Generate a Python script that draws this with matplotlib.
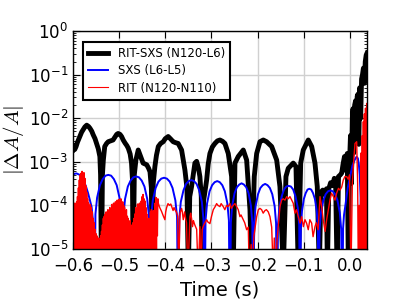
import numpy as np
import matplotlib
matplotlib.use("Agg")
import matplotlib.pyplot as plt

plt.rcParams["mathtext.fontset"] = "cm"

labels = ["RIT-SXS (N120-L6)", "SXS (L6-L5)", "RIT (N120-N110)"]

# ---- RIT-SXS (black): time [s], log10 |dA/A|
rs_t = [-0.600, -0.598, -0.596, -0.593, -0.590, -0.585, -0.581, -0.578, -0.574, -0.570,
        -0.566, -0.563, -0.559, -0.556, -0.552, -0.549, -0.545, -0.5415, -0.540, -0.538,
        -0.536, -0.534, -0.531, -0.527, -0.5235, -0.518, -0.513, -0.508, -0.505, -0.502,
        -0.498, -0.4945, -0.491, -0.487, -0.483, -0.480, -0.476, -0.473, -0.471, -0.4695,
        -0.467, -0.4635, -0.4585, -0.456, -0.453, -0.448, -0.444, -0.440, -0.436, -0.433,
        -0.430, -0.428, -0.426, -0.4224, -0.419, -0.415, -0.410, -0.4044, -0.400, -0.3936,
        -0.388, -0.3828, -0.378, -0.372, -0.3646, -0.3574, -0.353, -0.350, -0.347, -0.343,
        -0.3358, -0.332, -0.328, -0.325, -0.322, -0.320, -0.317, -0.3104, -0.307, -0.3033,
        -0.298, -0.2925, -0.287, -0.2816, -0.276, -0.2708, -0.2636, -0.2563, -0.2528, -0.2491,
        -0.242, -0.2311, -0.2238, -0.2166, -0.213, -0.2073, -0.2021, -0.195, -0.1878, -0.1805,
        -0.1696, -0.1588, -0.1517, -0.1445, -0.1387, -0.1337, -0.1229, -0.117, -0.112, -0.1068,
        -0.1012, -0.0904, -0.083, -0.0759, -0.0709, -0.0665, -0.063, -0.059, -0.055, -0.051,
        -0.049, -0.046, -0.042, -0.038, -0.034, -0.031, -0.028, -0.025, -0.021, -0.018,
        -0.015, -0.012, -0.009, -0.006, -0.0036, -0.001, 0.001, 0.003, 0.005, 0.0065,
        0.008, 0.010, 0.012, 0.014, 0.0155, 0.017, 0.019, 0.021, 0.023, 0.025,
        0.027, 0.029, 0.031, 0.033, 0.035, 0.037]
rs_log = [-2.73, -2.62, -2.72, -2.65, -2.55, -2.42, -2.32, -2.27, -2.20, -2.16,
          -2.19, -2.23, -2.30, -2.38, -2.47, -2.57, -2.70, -2.88, -3.3, -5.5,
          -3.3, -2.96, -2.65, -2.58, -2.54, -2.52, -2.50, -2.42, -2.37, -2.35,
          -2.37, -2.42, -2.50, -2.57, -2.63, -2.69, -2.82, -3.03, -3.4, -5.5,
          -3.3, -2.96, -2.73, -2.80, -2.88, -3.03, -3.05, -3.07, -3.15, -3.23,
          -3.6, -5.5, -3.5, -3.11, -2.85, -2.65, -2.58, -2.54, -2.47, -2.42,
          -2.48, -2.54, -2.56, -2.58, -2.73, -3.19, -3.6, -5.5, -3.8, -3.57,
          -3.03, -2.99, -3.15, -3.34, -3.8, -5.5, -3.9, -3.42, -3.05, -2.81,
          -2.66, -2.58, -2.52, -2.50, -2.53, -2.58, -2.81, -3.34, -5.5, -3.03,
          -2.88, -2.73, -2.96, -4.1, -5.5, -3.34, -2.81, -2.54, -2.50, -2.54,
          -2.65, -2.96, -3.57, -5.5, -3.34, -3.15, -3.03, -3.11, -5.5, -3.03,
          -2.73, -2.50, -2.65, -3.03, -3.57, -5.5, -3.70, -3.65, -3.75, -3.62,
          -5.5, -3.62, -3.48, -3.55, -3.38, -3.6, -5.5, -3.34, -3.30, -3.26,
          -3.05, -2.88, -3.2, -2.81, -5.5, -3.0, -2.4, -3.5, -2.0, -1.78,
          -2.8, -1.7, -1.6, -2.4, -1.5, -1.45, -2.6, -1.3, -2.0, -1.1,
          -1.0, -0.85, -1.2, -0.7, -0.55, -0.5]

# ---- SXS (blue): time [s], |dA/A|
sxs_t = [-0.600, -0.596, -0.592, -0.585, -0.578, -0.572, -0.567, -0.5595, -0.556,
         -0.5535, -0.5511, -0.5475, -0.5414, -0.5354, -0.5293, -0.5233, -0.5172, -0.5112, -0.5051, -0.4991, -0.4954,
         -0.493, -0.4906, -0.487, -0.481, -0.475, -0.469, -0.463, -0.457, -0.451, -0.445, -0.439, -0.4354,
         -0.433, -0.4306, -0.4269, -0.4208, -0.4147, -0.4086, -0.4025, -0.3964, -0.3903, -0.3842, -0.3781, -0.3744,
         -0.372, -0.3697, -0.3663, -0.3606, -0.3549, -0.3492, -0.3435, -0.3378, -0.3321, -0.3264, -0.3207, -0.3173,
         -0.315, -0.3128, -0.3095, -0.304, -0.2985, -0.293, -0.2875, -0.282, -0.2765, -0.271, -0.2655, -0.2622,
         -0.260, -0.258, -0.2550, -0.2499, -0.2449, -0.2398, -0.2348, -0.2297, -0.2247, -0.2196, -0.2146, -0.2115,
         -0.2095, -0.2074, -0.2044, -0.1992, -0.1941, -0.1889, -0.1838, -0.1786, -0.1735, -0.1683, -0.1632, -0.1601,
         -0.158, -0.156, -0.153, -0.148, -0.143, -0.138, -0.133, -0.128, -0.123, -0.118, -0.113, -0.110,
         -0.108, -0.1064, -0.104, -0.100, -0.096, -0.092, -0.088, -0.084, -0.080, -0.076, -0.072, -0.0696,
         -0.068, -0.066, -0.0629, -0.0578, -0.0527, -0.0476, -0.0425, -0.0374, -0.0323, -0.0272, -0.0221, -0.0191,
         -0.017, -0.015, -0.013, -0.010, -0.005, 0.000, 0.005, 0.010, 0.014, 0.017, 0.019, 0.021, 0.023,
         0.024, 0.026, 0.030, 0.034, 0.037]
sxs_v = [5.0e-4, 5.3e-4, 5.4e-4, 5.0e-4, 3.9e-4, 2.8e-4, 1.9e-4, 9.3e-5, 4.0e-5,
         1e-7, 6.3e-5, 1.5e-4, 2.9e-4, 4.0e-4, 4.8e-4, 5.0e-4, 4.8e-4, 4.0e-4, 2.9e-4, 1.5e-4, 6.3e-5,
         1e-7, 5.8e-5, 1.4e-4, 2.7e-4, 3.7e-4, 4.4e-4, 4.6e-4, 4.4e-4, 3.7e-4, 2.7e-4, 1.4e-4, 5.8e-5,
         1e-7, 5.4e-5, 1.3e-4, 2.5e-4, 3.5e-4, 4.1e-4, 4.3e-4, 4.1e-4, 3.5e-4, 2.5e-4, 1.3e-4, 5.4e-5,
         1e-7, 4.8e-5, 1.2e-4, 2.2e-4, 3.1e-4, 3.6e-4, 3.8e-4, 3.6e-4, 3.1e-4, 2.2e-4, 1.2e-4, 4.8e-5,
         1e-7, 4.5e-5, 1.1e-4, 2.1e-4, 2.9e-4, 3.4e-4, 3.6e-4, 3.4e-4, 2.9e-4, 2.1e-4, 1.1e-4, 4.5e-5,
         1e-7, 4.0e-5, 9.9e-5, 1.9e-4, 2.6e-4, 3.0e-4, 3.2e-4, 3.0e-4, 2.6e-4, 1.9e-4, 9.9e-5, 4.0e-5,
         1e-7, 3.9e-5, 9.6e-5, 1.8e-4, 2.5e-4, 2.9e-4, 3.1e-4, 2.9e-4, 2.5e-4, 1.8e-4, 9.6e-5, 3.9e-5,
         1e-7, 3.5e-5, 8.7e-5, 1.6e-4, 2.3e-4, 2.7e-4, 2.8e-4, 2.7e-4, 2.3e-4, 1.6e-4, 8.7e-5, 3.5e-5,
         1e-7, 3.0e-5, 7.4e-5, 1.4e-4, 1.9e-4, 2.3e-4, 2.4e-4, 2.3e-4, 1.9e-4, 1.4e-4, 7.4e-5, 3.0e-5,
         1e-7, 2.8e-5, 6.8e-5, 1.3e-4, 1.8e-4, 2.1e-4, 2.2e-4, 2.1e-4, 1.8e-4, 1.3e-4, 6.8e-5, 2.8e-5,
         1e-7, 3.0e-5, 6.0e-5, 1.0e-4, 2.5e-4, 4.5e-4, 8.0e-4, 1.1e-3, 1.3e-3, 1.2e-3, 9.0e-4, 5.0e-4, 1.5e-4,
         1e-7, 5.0e-4, 1.5e-3, 2.5e-3, 3.0e-3]

# ---- RIT (red), part 1: densely sampled noisy segment, 1 ms samples from -0.600 s
rit_dense_t0 = -0.600
rit_dense_dt = 0.001
rit_dense_log = [
    -3.97, -5.6, -4.05, -5.0, -3.95, -5.8, -4.02, -4.9, -3.92, -5.4,
    -3.80, -6.0, -3.60, -5.2, -3.42, -4.7, -3.30, -5.7, -3.26, -5.1,
    -3.22, -5.5, -3.28, -4.8, -3.25, -5.6, -3.38, -5.0, -3.55, -5.8,
    -3.70, -4.9, -3.85, -5.4, -3.95, -6.0, -4.02, -5.2, -3.98, -4.7,
    -4.05, -5.7, -4.15, -5.1, -4.30, -5.5, -4.40, -4.8, -4.55, -5.6,
    -4.65, -5.0, -4.70, -5.8, -4.80, -4.95, -4.75, -5.4, -4.85, -6.0,
    -4.70, -5.2, -4.60, -4.9, -4.45, -5.7, -4.30, -5.1, -4.25, -5.5,
    -4.20, -4.8, -4.15, -5.6, -4.25, -5.0, -4.10, -5.8, -4.20, -4.9,
    -4.05, -5.4, -4.15, -6.0, -3.98, -5.2, -4.10, -4.7, -3.95, -5.7,
    -4.05, -5.1, -3.92, -5.5, -4.00, -4.8, -3.88, -5.6, -3.95, -5.0,
    -3.86, -5.8, -3.90, -4.9, -3.85, -5.4, -3.95, -6.0, -3.92, -5.2,
    -4.00, -4.7, -4.05, -5.7, -4.15, -5.1, -4.10, -5.5, -4.25, -4.8,
    -4.30, -5.6, -4.40, -5.0, -4.35, -5.8, -4.50, -4.9, -4.45, -5.4,
    -4.40, -6.0, -4.30, -5.2, -4.20, -4.7, -4.05, -5.7, -4.10, -5.1,
    -3.97, -5.5, -4.03, -4.8, -3.95, -5.6, -4.05, -5.0, -3.90, -5.8,
    -3.80, -4.9, -3.75, -5.4, -3.85, -6.0, -3.90, -5.2, -4.05, -4.7,
    -4.20, -5.7, -4.40, -5.1, -4.30, -5.5, -4.50, -4.8, -4.15, -5.6,
    -4.10, -5.0, -4.20, -5.8, -4.12, -4.9, -4.18, -5.4, -3.95, -6.0,
    -3.82, -5.2, -3.90, -4.7, -3.85]

# ---- RIT (red), part 2
rit_t = [-0.415, -0.412, -0.408, -0.404, -0.4007, -0.399, -0.397, -0.394, -0.391, -0.388,
         -0.386, -0.383, -0.381, -0.379, -0.376, -0.373, -0.371, -0.368, -0.3646, -0.363,
         -0.361, -0.358, -0.356, -0.354, -0.351, -0.3466, -0.345, -0.343, -0.341, -0.339,
         -0.336, -0.332, -0.3286, -0.325, -0.323, -0.320, -0.318, -0.315, -0.3104, -0.308,
         -0.3055, -0.3033, -0.300, -0.298, -0.296, -0.292, -0.2888, -0.286, -0.2816, -0.279,
         -0.2744, -0.271, -0.2671, -0.264, -0.260, -0.257, -0.2528, -0.249, -0.2455, -0.242,
         -0.2383, -0.236, -0.2311, -0.228, -0.2238, -0.2203, -0.218, -0.214, -0.212, -0.208,
         -0.2021, -0.1985, -0.195, -0.1914, -0.188, -0.1842, -0.181, -0.177, -0.1733, -0.1696,
         -0.166, -0.164, -0.161, -0.158, -0.1517, -0.148, -0.145, -0.1408, -0.137, -0.1337,
         -0.130, -0.1264, -0.123, -0.1192, -0.116, -0.112, -0.108, -0.1047, -0.101, -0.0975,
         -0.094, -0.0904, -0.087, -0.083, -0.080, -0.0759, -0.073, -0.069, -0.065, -0.0614,
         -0.058, -0.054, -0.0506, -0.047, -0.0434, -0.040, -0.036, -0.0325, -0.029, -0.025,
         -0.0217, -0.018, -0.0146, -0.011, -0.0072, -0.004, -0.001, 0.002, 0.005, 0.0085,
         0.0108, 0.0144, 0.0165, 0.018, 0.020, 0.022, 0.0235, 0.025, 0.0265, 0.028,
         0.0288, 0.030, 0.031, 0.032, 0.0335, 0.035, 0.036, 0.037]
rit_log = [-3.95, -4.05, -4.14, -4.25, -4.33, -4.15, -4.05, -3.96, -4.00, -3.97,
           -4.03, -4.12, -4.05, -4.10, -4.15, -4.25, -5.6, -4.18, -4.07, -4.15,
           -4.33, -4.15, -4.30, -4.40, -5.6, -4.26, -4.18, -4.30, -4.49, -4.35,
           -4.45, -4.55, -5.6, -4.49, -5.6, -4.56, -4.49, -4.42, -4.33, -4.38,
           -4.40, -4.42, -4.26, -4.18, -4.10, -4.03, -3.96, -4.00, -4.03, -3.96,
           -4.03, -4.10, -4.00, -4.03, -3.96, -4.07, -4.00, -3.96, -4.03, -4.10,
           -4.26, -4.22, -4.33, -4.40, -4.56, -4.50, -5.6, -4.90, -5.6, -4.70,
           -4.26, -4.10, -4.07, -4.10, -4.18, -4.12, -4.10, -4.15, -4.26, -4.50,
           -5.6, -4.75, -5.6, -4.80, -4.03, -3.88, -3.85, -3.88, -3.80, -3.85,
           -3.80, -3.88, -3.95, -4.18, -4.10, -4.26, -4.41, -4.26, -4.49, -4.33,
           -4.41, -4.56, -4.33, -4.41, -4.72, -4.49, -4.40, -4.56, -3.80, -4.03,
           -4.33, -4.60, -4.33, -4.10, -3.88, -3.72, -3.80, -3.88, -3.72, -3.61,
           -3.65, -3.58, -3.42, -3.34, -3.34, -3.40, -3.30, -5.6, -3.50, -2.90,
           -2.58, -2.54, -3.50, -5.6, -4.00, -5.6, -2.80, -5.6, -2.40, -5.6,
           -2.08, -5.6, -1.90, -4.50, -1.77, -5.6, -1.66, -1.70]

x_ticks = [-0.6, -0.5, -0.4, -0.3, -0.2, -0.1, 0.0]

# ---- assemble
rs_v = 10.0 ** np.array(rs_log)
rit_dense_tt = rit_dense_t0 + rit_dense_dt * np.arange(len(rit_dense_log))
rit_all_t = np.concatenate([rit_dense_tt, np.array(rit_t)])
rit_all_v = 10.0 ** np.concatenate([np.array(rit_dense_log), np.array(rit_log)])

fig = plt.figure(figsize=(4.07, 3.05), dpi=100)
ax = fig.add_axes([0.179, 0.184, 0.723, 0.714])

ax.plot(rs_t, rs_v, color="black", lw=3.5, label=labels[0], solid_joinstyle="round")
ax.plot(sxs_t, sxs_v, color="blue", lw=1.4, label=labels[1])
ax.plot(rit_all_t, rit_all_v, color="red", lw=1.0, label=labels[2])

ax.set_yscale("log")
ax.set_ylim(1e-5, 1.0)
ax.set_xlim(-0.6, 0.037)
ax.set_xticks(x_ticks)
ax.grid(True, which="major", color="#d0d0d0", lw=1.0, ls="-")
ax.set_axisbelow(True)
ax.tick_params(which="both", direction="in", top=True, right=True, labelsize=12)
ax.tick_params(which="major", length=5, width=0.8)
ax.tick_params(which="minor", length=2.5, width=0.6)
ax.tick_params(axis="x", pad=6)
for s in ax.spines.values():
    s.set_linewidth(1.0)

ax.set_xlabel("Time (s)", fontsize=14)
ax.set_ylabel(r"$|\Delta A/A|$", fontsize=15)
ax.yaxis.set_label_coords(-0.158, 0.5)

leg = ax.legend(loc="upper left", bbox_to_anchor=(0.034, 0.95), borderaxespad=0,
                fontsize=8.5, fancybox=False, framealpha=1, edgecolor="black",
                handlelength=1.7, handletextpad=0.8, labelspacing=0.35,
                borderpad=0.45)
leg.get_frame().set_linewidth(1.5)
leg.get_lines()[2].set_linewidth(0.8)

fig.savefig("out.png", dpi=100)
